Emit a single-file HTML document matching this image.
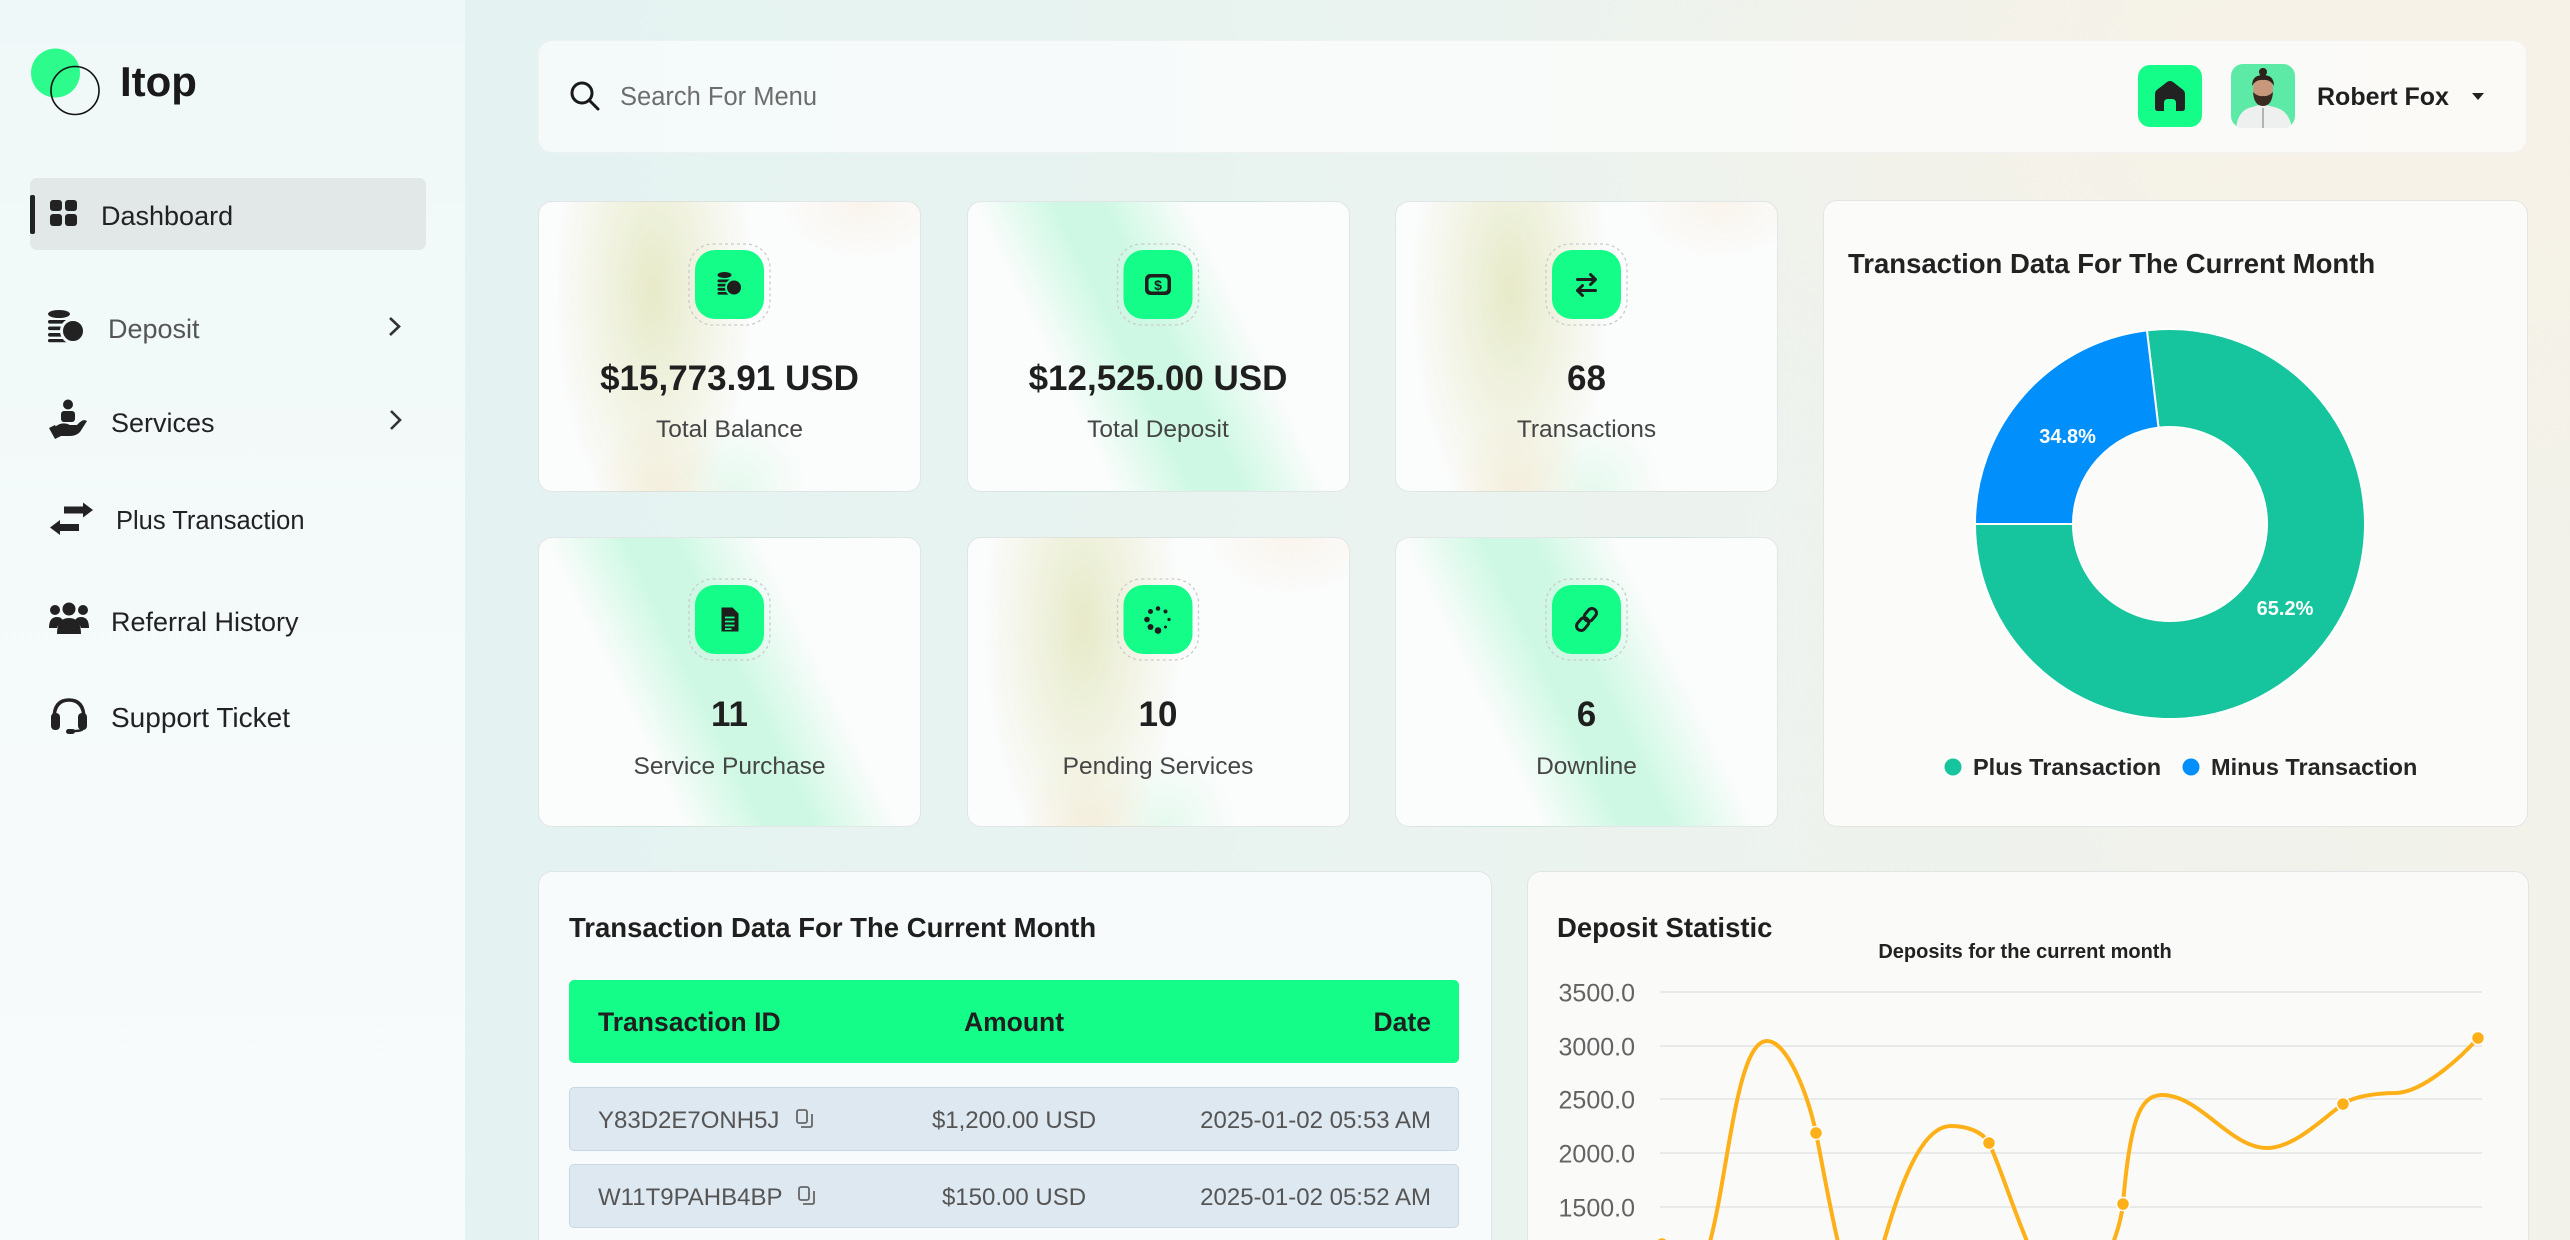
<!DOCTYPE html>
<html><head><meta charset="utf-8">
<style>
*{margin:0;padding:0;box-sizing:border-box}
html,body{width:2570px;height:1240px;overflow:hidden}
body{position:relative;font-family:"Liberation Sans",Arial,sans-serif;
background:
radial-gradient(ellipse 900px 500px at 2400px 80px, rgba(248,242,230,.9), rgba(248,242,230,0)),
linear-gradient(90deg,#e1f2f1 0%,#e6f3f1 35%,#ebf3ef 60%,#f0f2eb 85%,#f2f2ea 100%);}
.abs{position:absolute}
.side{left:0;top:0;width:465px;height:1240px;background:linear-gradient(180deg,#eff8f8,#f5fafa 55%,#f8fbfc)}
.hl{left:30px;top:178px;width:396px;height:72px;border-radius:7px;background:#e2e7e7}
.bar{left:30px;top:195px;width:5px;height:39px;border-radius:2px;background:#222}
.search{left:538px;top:40px;width:1989px;height:113px;border-radius:14px;background:linear-gradient(90deg,#f4fafa,#f9fbf9 55%,#fbfaf7);border:1px solid rgba(0,0,0,.03)}
.card{border-radius:14px;border:1px solid rgba(205,212,212,.55);background-color:#fbfcfc}
.yel{background-image:
radial-gradient(ellipse 26% 85% at 30% 30%, rgba(228,231,192,.85), rgba(228,231,192,0) 100%),
radial-gradient(ellipse 18% 28% at 32% 100%, rgba(243,228,200,.5), rgba(243,228,200,0)),
radial-gradient(ellipse 18% 26% at 52% 100%, rgba(208,247,224,.5), rgba(208,247,224,0)),
radial-gradient(ellipse 22% 20% at 85% 0%, rgba(247,234,216,.45), rgba(247,234,216,0))}
.grn{background-image:linear-gradient(64deg, rgba(196,248,222,0) 28%, rgba(196,248,222,.8) 43%, rgba(196,248,222,.8) 53%, rgba(196,248,222,0) 69%)}
.big{background:#fbfbf9}
.th{left:569px;top:980px;width:890px;height:83px;border-radius:5px;background:#14fd88}
.row{left:569px;width:890px;height:64px;border-radius:5px;background:#dde8f1;border:1px solid #c9d7e2}
.home{left:2138px;top:65px;width:64px;height:62px;border-radius:12px;background:#14fd88}
svg{position:absolute;left:0;top:0}
</style></head>
<body>
<div class="abs side"></div>
<div class="abs hl"></div>
<div class="abs bar"></div>
<div class="abs search"></div>

<div class="abs card yel" style="left:538px;top:201px;width:383px;height:291px"></div>
<div class="abs card grn" style="left:967px;top:201px;width:383px;height:291px"></div>
<div class="abs card yel" style="left:1395px;top:201px;width:383px;height:291px"></div>
<div class="abs card grn" style="left:538px;top:537px;width:383px;height:290px"></div>
<div class="abs card yel" style="left:967px;top:537px;width:383px;height:290px"></div>
<div class="abs card grn" style="left:1395px;top:537px;width:383px;height:290px"></div>

<div class="abs card big" style="left:1823px;top:200px;width:705px;height:627px"></div>
<div class="abs card" style="left:538px;top:871px;width:954px;height:420px;background:#f8fbfb"></div>
<div class="abs card" style="left:1527px;top:871px;width:1002px;height:420px;background:#fafbf9"></div>

<div class="abs th"></div>
<div class="abs row" style="top:1087px"></div>
<div class="abs row" style="top:1164px"></div>
<div class="abs home"></div>

<svg width="2570" height="1240" viewBox="0 0 2570 1240" font-family="Liberation Sans, Arial, sans-serif">
<!-- logo -->
<circle cx="55.5" cy="73" r="24.5" fill="#2dfb8b"/>
<circle cx="75" cy="90.5" r="24" fill="none" stroke="#111" stroke-width="1.6"/>
<text x="120" y="96" font-size="42" font-weight="700" fill="#1a1a1a">Itop</text>

<!-- sidebar icons -->
<g fill="#222">
<rect x="50" y="200" width="12" height="11" rx="3"/><rect x="65" y="200" width="12" height="11" rx="3"/>
<rect x="50" y="214" width="12" height="12" rx="3"/><rect x="65" y="214" width="12" height="12" rx="3"/>
<ellipse cx="59" cy="314" rx="11" ry="4"/>
<rect x="48" y="320" width="22" height="3.6" rx="1.8"/>
<rect x="48" y="326.5" width="22" height="3.6" rx="1.8"/>
<rect x="48" y="333" width="22" height="3.6" rx="1.8"/>
<rect x="48" y="339" width="22" height="3.2" rx="1.6"/>
<circle cx="73" cy="331" r="11.5" stroke="#f3f9f9" stroke-width="3"/>
<circle cx="68" cy="404.5" r="5"/>
<rect x="61" y="411" width="14" height="11" rx="3"/>
<path d="M55 427 Q62 421 70 425 L77 425 Q83 418 87 421 L80 432 Q76 436 70 436 L59 436 Z"/>
<path d="M49 428 L55 425 L61 436 L55 439 Z"/>
<path d="M64 506.5 h19 v-4 l10 7.5 l-10 7.5 v-4 h-19 z"/>
<path d="M79 524 h-19 v-4 l-10 7.5 l10 7.5 v-4 h19 z"/>
<circle cx="69" cy="609" r="6.5"/><circle cx="55" cy="610" r="5"/><circle cx="83" cy="610" r="5"/>
<path d="M57 634 Q57 618 69 618 Q81 618 81 634 Z"/>
<path d="M49 628 Q49 617 57 617 Q62 617 63 621 Q58 624 57 628 Z"/>
<path d="M89 628 Q89 617 81 617 Q76 617 75 621 Q80 624 81 628 Z"/>
<rect x="51" y="713" width="9" height="17" rx="4"/>
<rect x="78" y="713" width="9" height="17" rx="4"/>
<rect x="66" y="729" width="9" height="5" rx="2.5"/>
</g>
<path d="M54 719 Q54 700 69 700 Q84 700 84 719" fill="none" stroke="#222" stroke-width="3.5"/>
<path d="M83 728 Q83 731 74 731" fill="none" stroke="#222" stroke-width="2.5"/>
<polyline points="390,318 399,326.5 390,335" fill="none" stroke="#333" stroke-width="2.6"/>
<polyline points="391,411 400,420 391,429" fill="none" stroke="#333" stroke-width="2.6"/>

<g fill="#222">
<text x="101" y="225" font-size="27">Dashboard</text>
<text x="108" y="338" font-size="27" fill="#555">Deposit</text>
<text x="111" y="432" font-size="27">Services</text>
<text x="116" y="529" font-size="25.5">Plus Transaction</text>
<text x="111" y="631" font-size="27">Referral History</text>
<text x="111" y="727" font-size="28">Support Ticket</text>
</g>

<!-- search -->
<circle cx="582" cy="93" r="10" fill="none" stroke="#1a1a1a" stroke-width="3"/>
<line x1="589.5" y1="100.5" x2="598" y2="109" stroke="#1a1a1a" stroke-width="3" stroke-linecap="round"/>
<text x="620" y="105" font-size="25.5" fill="#6d6d6d">Search For Menu</text>

<!-- home icon -->
<path d="M2155,94 Q2155,91 2158,89 L2167,82 Q2170,80 2173,82 L2182,89 Q2185,91 2185,94 V108 Q2185,111 2182,111 H2176 V103 Q2176,99 2172,99 H2168 Q2164,99 2164,103 V111 H2158 Q2155,111 2155,108 Z" fill="#222"/>
<!-- avatar -->
<clipPath id="av"><rect x="2231" y="64" width="64" height="64" rx="12"/></clipPath>
<g clip-path="url(#av)">
<rect x="2231" y="64" width="64" height="64" fill="#5de9a6"/>
<path d="M2236 128 Q2238 110 2252 107 L2263 104 L2274 107 Q2289 110 2292 128 Z" fill="#eef0ef"/>
<line x1="2263" y1="108" x2="2263" y2="128" stroke="#777" stroke-width="1"/>
<ellipse cx="2263" cy="89" rx="10" ry="12" fill="#c8987c"/>
<path d="M2253 92 Q2254 106 2263 106 Q2272 106 2273 92 Q2268 97 2263 96 Q2258 97 2253 92 Z" fill="#3a2a20"/>
<path d="M2252 86 Q2252 75 2263 75 Q2274 75 2274 86 Q2270 79 2263 80 Q2256 79 2252 86 Z" fill="#2e2119"/>
<circle cx="2263" cy="72" r="4" fill="#2e2119"/>
</g>
<text x="2317" y="105" font-size="25" font-weight="700" fill="#1f1f1f">Robert Fox</text>
<path d="M2472 93 L2484 93 L2478 100 Z" fill="#222"/>

<!-- card icon boxes -->
<g fill="none" stroke="#c9cccc" stroke-width="1.3" stroke-dasharray="3 3">
<rect x="689" y="244" width="81" height="81" rx="24"/>
<rect x="1117.5" y="244" width="81" height="81" rx="24"/>
<rect x="1546" y="244" width="81" height="81" rx="24"/>
<rect x="689" y="579" width="81" height="81" rx="24"/>
<rect x="1117.5" y="579" width="81" height="81" rx="24"/>
<rect x="1546" y="579" width="81" height="81" rx="24"/>
</g>
<g fill="#14fd88">
<rect x="695" y="250" width="69" height="69" rx="20"/>
<rect x="1123.5" y="250" width="69" height="69" rx="20"/>
<rect x="1552" y="250" width="69" height="69" rx="20"/>
<rect x="695" y="585" width="69" height="69" rx="20"/>
<rect x="1123.5" y="585" width="69" height="69" rx="20"/>
<rect x="1552" y="585" width="69" height="69" rx="20"/>
</g>
<g transform="translate(729.5,284)" fill="#1e1e1e">
<ellipse cx="-5" cy="-9" rx="7" ry="3"/>
<rect x="-12" y="-4.5" width="13" height="2.8" rx="1.4"/>
<rect x="-12" y="-0.3" width="13" height="2.8" rx="1.4"/>
<rect x="-12" y="3.9" width="13" height="2.8" rx="1.4"/>
<rect x="-12" y="8" width="13" height="2.6" rx="1.3"/>
<circle cx="4.5" cy="3.5" r="8" stroke="#14fd88" stroke-width="2"/>
</g>
<g transform="translate(1158,284.5)">
<rect x="-13" y="-10.5" width="26" height="21" rx="5" fill="#1e1e1e"/>
<rect x="-9.5" y="-7" width="19" height="14" rx="3" fill="#14fd88"/>
<text x="0" y="5.5" font-size="14" font-weight="700" text-anchor="middle" fill="#1e1e1e">$</text>
</g>
<g transform="translate(1586.5,284.5)" fill="none" stroke="#1e1e1e" stroke-width="3" stroke-linecap="round" stroke-linejoin="round">
<path d="M-9 -5 H9 M4 -10 L9 -5 L4 0"/>
<path d="M9 6 H-9 M-4 1 L-9 6 L-4 11"/>
</g>
<g transform="translate(729.5,619.5)">
<path d="M-8 -12 H3 L9 -6 V12 H-8 Z" fill="#1e1e1e"/>
<g stroke="#14fd88" stroke-width="1.8"><line x1="-4.5" y1="-2" x2="5" y2="-2"/><line x1="-4.5" y1="2" x2="5" y2="2"/><line x1="-4.5" y1="6" x2="5" y2="6"/><line x1="-4.5" y1="9.5" x2="2" y2="9.5"/></g>
</g>
<g transform="translate(1158,619.5)" fill="#1e1e1e">
<circle cx="0" cy="-11" r="2.3"/><circle cx="7.5" cy="-8" r="2"/><circle cx="11" cy="0" r="1.6"/>
<circle cx="7.5" cy="7.5" r="1.5"/><circle cx="0" cy="11" r="3.3"/><circle cx="-7.5" cy="7.5" r="3"/>
<circle cx="-11" cy="0" r="2.8"/><circle cx="-7.5" cy="-8" r="2.5"/>
</g>
<g transform="translate(1586.5,619.5) rotate(-50)" fill="none" stroke="#1e1e1e" stroke-width="3">
<rect x="-13" y="-4.5" width="14" height="9" rx="4.5"/>
<rect x="-1" y="-4.5" width="14" height="9" rx="4.5"/>
</g>

<!-- card texts -->
<g fill="#1f1f1f" font-weight="700" font-size="35" text-anchor="middle">
<text x="729.5" y="390">$15,773.91 USD</text>
<text x="1158" y="390">$12,525.00 USD</text>
<text x="1586.5" y="390">68</text>
<text x="729.5" y="726">11</text>
<text x="1158" y="726">10</text>
<text x="1586.5" y="726">6</text>
</g>
<g fill="#454545" font-size="24.5" text-anchor="middle">
<text x="729.5" y="437">Total Balance</text>
<text x="1158" y="437">Total Deposit</text>
<text x="1586.5" y="437">Transactions</text>
<text x="729.5" y="774">Service Purchase</text>
<text x="1158" y="774">Pending Services</text>
<text x="1586.5" y="774">Downline</text>
</g>

<!-- donut -->
<text x="1848" y="273" font-size="27.5" font-weight="700" fill="#222">Transaction Data For The Current Month</text>
<path d="M2146.91,330.36 A195,195 0 1 1 1975,524 L2073,524 A97,97 0 1 0 2158.52,427.68 Z" fill="#16c49d" stroke="#fff" stroke-width="2"/>
<path d="M1975,524 A195,195 0 0 1 2146.91,330.36 L2158.52,427.68 A97,97 0 0 0 2073,524 Z" fill="#008ffb" stroke="#fff" stroke-width="2"/>
<g font-size="20" font-weight="700" fill="#fff" text-anchor="middle">
<text x="2067.6" y="443">34.8%</text>
<text x="2285" y="615">65.2%</text>
</g>
<circle cx="1953" cy="767" r="8.5" fill="#16c49d"/>
<circle cx="2191" cy="767" r="8.5" fill="#008ffb"/>
<g font-size="23.5" font-weight="700" fill="#262626">
<text x="1973" y="775">Plus Transaction</text>
<text x="2211" y="775">Minus Transaction</text>
</g>

<!-- table -->
<text x="569" y="937" font-size="27.5" font-weight="700" fill="#1f1f1f">Transaction Data For The Current Month</text>
<g font-size="26.5" font-weight="700" fill="#1f1f1f">
<text x="598" y="1031">Transaction ID</text>
<text x="1014" y="1031" text-anchor="middle">Amount</text>
<text x="1431" y="1031" text-anchor="end">Date</text>
</g>
<g font-size="24" fill="#555">
<text x="598" y="1128">Y83D2E7ONH5J</text>
<text x="1014" y="1128" text-anchor="middle">$1,200.00 USD</text>
<text x="1431" y="1128" text-anchor="end">2025-01-02 05:53 AM</text>
<text x="598" y="1205">W11T9PAHB4BP</text>
<text x="1014" y="1205" text-anchor="middle">$150.00 USD</text>
<text x="1431" y="1205" text-anchor="end">2025-01-02 05:52 AM</text>
</g>
<g fill="none" stroke="#666" stroke-width="1.8">
<rect x="797" y="1110" width="10" height="13" rx="2"/><path d="M801 1127 H810 Q812 1127 812 1125 V1114"/>
<rect x="799" y="1187" width="10" height="13" rx="2"/><path d="M803 1204 H812 Q814 1204 814 1202 V1191"/>
</g>

<!-- line chart -->
<text x="1557" y="937" font-size="27.5" font-weight="700" fill="#1f1f1f">Deposit Statistic</text>
<text x="2025" y="958" font-size="20" font-weight="700" fill="#222" text-anchor="middle">Deposits for the current month</text>
<g stroke="#e2e4e4" stroke-width="1.6">
<line x1="1660" y1="992" x2="2482" y2="992"/>
<line x1="1660" y1="1046" x2="2482" y2="1046"/>
<line x1="1660" y1="1099" x2="2482" y2="1099"/>
<line x1="1660" y1="1153" x2="2482" y2="1153"/>
<line x1="1660" y1="1207" x2="2482" y2="1207"/>
</g>
<g font-size="25" fill="#636363" text-anchor="end">
<text x="1635" y="1001.5">3500.0</text>
<text x="1635" y="1055.5">3000.0</text>
<text x="1635" y="1108.5">2500.0</text>
<text x="1635" y="1162.5">2000.0</text>
<text x="1635" y="1216.5">1500.0</text>
</g>
<path d="M1662,1244 C1668,1262 1676,1285 1684,1285 C1725.5,1285 1725.5,1041 1767,1041 C1787,1041 1808,1094 1816,1133 C1828,1192 1845,1300 1862,1300 C1876,1300 1900,1126 1951,1126 C1966,1126 1982,1131 1989,1143 C2005,1175 2040,1300 2066,1300 C2090,1300 2118.6,1243.6 2123,1204 C2130,1120 2140,1095 2162,1095 C2200,1095 2230,1148 2267,1148 C2295,1148 2326.6,1115.4 2343,1104 C2355.3,1095.5 2380,1093 2396,1093 C2425,1092 2465,1053 2478,1038" fill="none" stroke="#feb019" stroke-width="4" stroke-linecap="round"/>
<g fill="#feb019" stroke="#fff" stroke-width="1.5">
<circle cx="1662" cy="1244" r="6.5"/>
<circle cx="1816" cy="1133" r="6.5"/>
<circle cx="1989" cy="1143" r="6.5"/>
<circle cx="2123" cy="1204" r="6.5"/>
<circle cx="2343" cy="1104" r="6.5"/>
<circle cx="2478" cy="1038" r="6.5"/>
</g>
</svg>
</body></html>
